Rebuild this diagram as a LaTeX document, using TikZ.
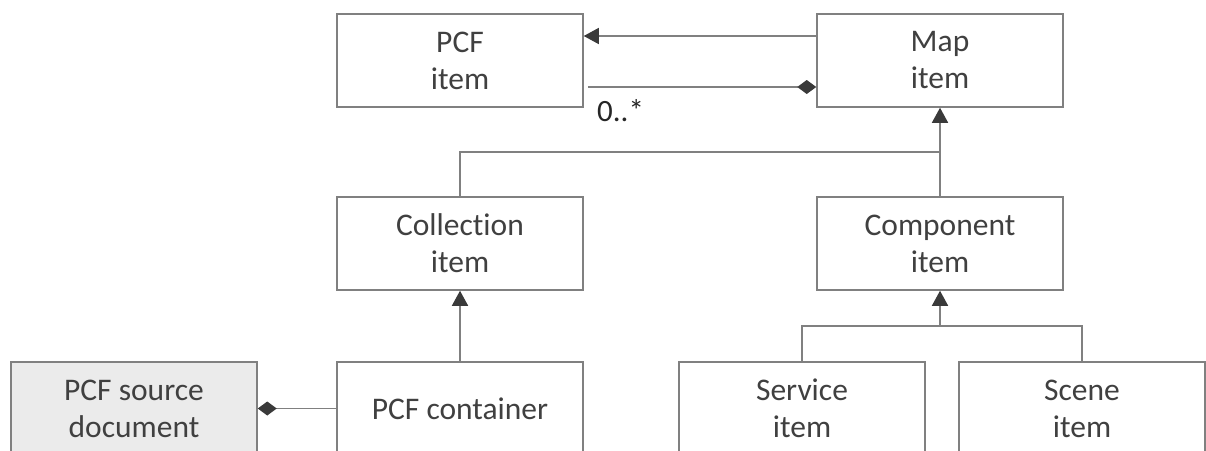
\documentclass[tikz,border=0pt]{standalone}
\usepackage{fontspec}
\setmainfont[Ligatures=NoCommon]{Carlito}
\usetikzlibrary{arrows.meta,calc}
\definecolor{txt}{HTML}{404040}
\definecolor{edge}{HTML}{808080}
\definecolor{tip}{HTML}{3A3A3A}
\definecolor{srcfill}{HTML}{EBEBEB}
\tikzset{
  cls/.style={draw=edge, line width=1.5pt, fill=white, minimum width=246pt,
    minimum height=93pt, inner sep=0pt, align=center, text=txt,
    font=\fontsize{31.5}{37}\selectfont},
  link/.style={draw=edge, line width=1.4pt},
  gen/.style={link, -{Triangle[length=15pt,width=16pt,color=tip]}},
  comp/.style={link, {Diamond[length=19pt,width=14pt,color=tip]}-},
  compend/.style={link, -{Diamond[length=19pt,width=14pt,color=tip]}}
}
\begin{document}
\begin{tikzpicture}[x=1pt,y=-1pt]
\useasboundingbox (0,0) rectangle (1206,450);
\clip (0,0) rectangle (1206,450);

% classes
\node[cls] (pcf)   at (460,60.5)  {PCF\\item};
\node[cls] (map)   at (940,60.5)  {Map\\item};
\node[cls] (coll)  at (460,243.5) {Collection\\item};
\node[cls] (compo) at (940,243.5) {Component\\item};
\node[cls, fill=srcfill] (src) at (134,408.5) {PCF source\\document};
\node[cls] (cont)  at (460,408.5) {PCF container};
\node[cls] (serv)  at (802,408.5) {Service\\item};
\node[cls] (scene) at (1082,408.5) {Scene\\item};

% junction points of the inheritance trees
\coordinate (j1) at (940,152);
\coordinate (j2) at (940,326);

% Map item -> PCF item, and the 0..* aggregation
\draw[gen] ([yshift=24.5pt]map.west) -- ([yshift=24.5pt]pcf.east);
\draw[compend] ([yshift=-26.5pt,xshift=4pt]pcf.east) -- ([yshift=-26.5pt]map.west);
\node[anchor=base west, inner sep=0pt, text=black!85,
  font=\fontsize{31}{37}\selectfont] (mult) at (597,121) {0..*};

% Collection / Component generalise Map item
\draw[gen] (compo.north) -- (map.south);
\draw[link] (coll.north) |- (j1);

% PCF container generalises Collection item
\draw[gen] (cont.north) -- (coll.south);
\draw[comp] (src.east) -- (cont.west);

% Service / Scene generalise Component item
\draw[link] (serv.north) |- (j2) -| (scene.north);
\draw[gen] (j2) -- (compo.south);
\end{tikzpicture}
\end{document}
